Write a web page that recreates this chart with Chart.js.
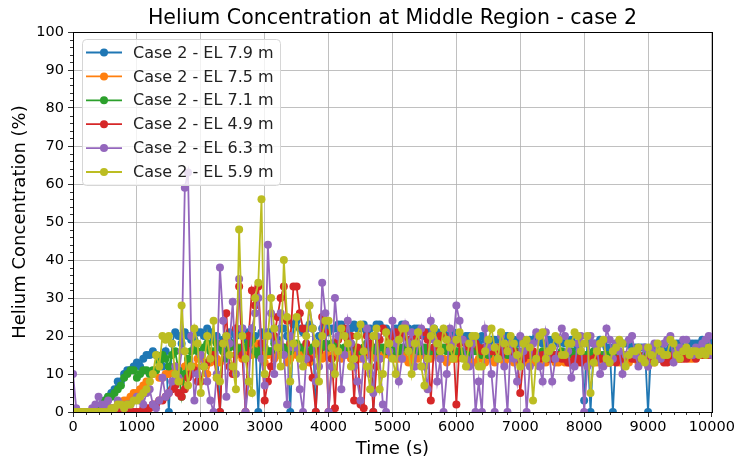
<!DOCTYPE html>
<html>
<head>
<meta charset="utf-8">
<script src="https://cdn.jsdelivr.net/npm/chart.js@4.4.0/dist/chart.umd.min.js"></script>
<style>
  html, body { margin: 0; padding: 0; background: #fff; }
</style>
</head>
<body>
<canvas id="heliumChart" width="737" height="460"></canvas>
<script>
// sample times (s), every 50 s
const times = [
  0, 50, 100, 150, 200, 250, 300, 350, 400, 450,
  500, 550, 600, 650, 700, 750, 800, 850, 900, 950,
  1000, 1050, 1100, 1150, 1200, 1250, 1300, 1350, 1400, 1450,
  1500, 1550, 1600, 1650, 1700, 1750, 1800, 1850, 1900, 1950,
  2000, 2050, 2100, 2150, 2200, 2250, 2300, 2350, 2400, 2450,
  2500, 2550, 2600, 2650, 2700, 2750, 2800, 2850, 2900, 2950,
  3000, 3050, 3100, 3150, 3200, 3250, 3300, 3350, 3400, 3450,
  3500, 3550, 3600, 3650, 3700, 3750, 3800, 3850, 3900, 3950,
  4000, 4050, 4100, 4150, 4200, 4250, 4300, 4350, 4400, 4450,
  4500, 4550, 4600, 4650, 4700, 4750, 4800, 4850, 4900, 4950,
  5000, 5050, 5100, 5150, 5200, 5250, 5300, 5350, 5400, 5450,
  5500, 5550, 5600, 5650, 5700, 5750, 5800, 5850, 5900, 5950,
  6000, 6050, 6100, 6150, 6200, 6250, 6300, 6350, 6400, 6450,
  6500, 6550, 6600, 6650, 6700, 6750, 6800, 6850, 6900, 6950,
  7000, 7050, 7100, 7150, 7200, 7250, 7300, 7350, 7400, 7450,
  7500, 7550, 7600, 7650, 7700, 7750, 7800, 7850, 7900, 7950,
  8000, 8050, 8100, 8150, 8200, 8250, 8300, 8350, 8400, 8450,
  8500, 8550, 8600, 8650, 8700, 8750, 8800, 8850, 8900, 8950,
  9000, 9050, 9100, 9150, 9200, 9250, 9300, 9350, 9400, 9450,
  9500, 9550, 9600, 9650, 9700, 9750, 9800, 9850, 9900, 9950,
  10000
];

// helium concentration (%) per elevation
const el79 = [
  0, 0, 0, 0, 0, 0, 0, 0, 1, 2,
  3, 4, 5, 6, 8, 8, 10, 11, 11, 12,
  13, 12, 14, 15, 15, 16, 15, 14, 12, 16,
  0, 18, 21, 20, 18, 21, 20, 19, 19, 21,
  21, 20, 22, 21, 19, 20, 0, 19, 20, 21,
  18, 20, 21, 22, 19, 21, 22, 20, 0, 21,
  20, 21, 21, 19, 19, 22, 22, 20, 0, 23,
  24, 22, 21, 22, 23, 22, 0, 20, 22, 23,
  21, 22, 22, 23, 23, 21, 20, 22, 23, 22,
  22, 23, 21, 22, 0, 23, 23, 22, 22, 21,
  21, 22, 22, 23, 23, 22, 21, 22, 22, 21,
  20, 21, 21, 22, 21, 20, 21, 20, 20, 21,
  20, 19, 19, 20, 20, 19, 19, 18, 20, 19,
  18, 19, 19, 19, 19, 20, 20, 19, 19, 18,
  19, 19, 18, 19, 19, 20, 19, 18, 18, 19,
  19, 19, 18, 19, 18, 18, 19, 18, 17, 18,
  3, 18, 0, 18, 18, 19, 18, 17, 17, 0,
  18, 18, 18, 18, 18, 17, 17, 17, 17, 17,
  0, 17, 17, 17, 17, 16, 16, 17, 17, 18,
  18, 17, 17, 18, 18, 18, 18, 19, 18, 19,
  18
];
const el75 = [
  0, 0, 0, 0, 0, 0, 0, 0, 0, 0,
  0, 1, 1, 1, 2, 2, 3, 3, 4, 5,
  5, 6, 7, 8, 8, 10, 11, 9, 9, 10,
  10, 11, 12, 10, 8, 12, 13, 11, 12, 14,
  14, 12, 10, 13, 15, 14, 13, 16, 16, 12,
  12, 15, 17, 14, 14, 16, 15, 17, 18, 15,
  13, 15, 16, 14, 15, 17, 17, 13, 14, 16,
  15, 15, 16, 14, 13, 15, 17, 16, 14, 15,
  15, 14, 16, 15, 14, 16, 15, 14, 16, 15,
  14, 15, 15, 16, 15, 14, 14, 15, 16, 15,
  15, 14, 14, 15, 14, 13, 15, 14, 14, 15,
  15, 14, 14, 15, 15, 14, 14, 13, 14, 14,
  14, 15, 15, 14, 14, 13, 13, 14, 14, 13,
  15, 14, 13, 14, 14, 13, 14, 14, 13, 14,
  14, 13, 13, 14, 13, 14, 14, 13, 13, 14,
  14, 13, 13, 14, 13, 13, 14, 13, 13, 14,
  13, 14, 14, 13, 13, 14, 14, 13, 13, 14,
  14, 13, 14, 14, 13, 14, 14, 13, 14, 14,
  14, 13, 13, 14, 14, 14, 14, 15, 15, 14,
  14, 15, 15, 14, 14, 15, 15, 15, 15, 16,
  16
];
const el71 = [
  0, 0, 0, 0, 0, 0, 0, 0, 1, 2,
  3, 4, 4, 5, 6, 7, 9, 10, 11, 11,
  9, 10, 11, 11, 10, 11, 11, 13, 15, 14,
  12, 15, 16, 11, 4, 10, 14, 16, 17, 16,
  15, 17, 18, 16, 16, 18, 17, 16, 14, 17,
  18, 17, 16, 17, 17, 18, 19, 16, 15, 17,
  17, 16, 16, 18, 18, 17, 17, 16, 16, 17,
  18, 17, 17, 16, 16, 17, 18, 17, 17, 18,
  17, 18, 18, 17, 16, 17, 17, 18, 17, 16,
  16, 17, 18, 17, 17, 16, 17, 17, 16, 16,
  17, 16, 16, 17, 17, 16, 17, 17, 16, 16,
  17, 16, 16, 17, 16, 16, 17, 16, 16, 16,
  16, 16, 16, 15, 15, 16, 16, 16, 15, 16,
  15, 16, 16, 15, 16, 16, 15, 15, 16, 16,
  15, 16, 16, 15, 15, 15, 15, 16, 16, 15,
  15, 15, 15, 16, 15, 15, 16, 15, 15, 15,
  15, 15, 15, 16, 16, 15, 15, 15, 15, 14,
  14, 15, 15, 15, 15, 15, 15, 14, 14, 15,
  15, 15, 15, 14, 14, 15, 15, 15, 15, 16,
  16, 15, 15, 15, 15, 16, 16, 16, 16, 16,
  16
];
const el49 = [
  0, 0, 0, 0, 0, 0, 0, 0, 0, 0,
  0, 0, 0, 0, 0, 0, 0, 0, 0, 0,
  0, 0, 1, 1, 1, 2, 2, 3, 3, 4,
  5, 6, 7, 5, 4, 6, 9, 10, 11, 8,
  8, 12, 13, 14, 15, 9, 0, 18, 26, 12,
  10, 22, 33, 15, 0, 20, 32, 28, 33, 18,
  3, 8, 12, 20, 25, 30, 33, 24, 18, 33,
  33, 26, 22, 18, 14, 9, 0, 16, 25, 21,
  0, 14, 1, 19, 21, 22, 19, 20, 3, 17,
  2, 1, 20, 18, 0, 12, 19, 22, 21, 19,
  20, 21, 19, 20, 21, 19, 18, 20, 20, 21,
  21, 19, 3, 17, 19, 20, 20, 19, 18, 19,
  2, 18, 19, 18, 17, 18, 18, 17, 16, 17,
  17, 16, 16, 17, 15, 16, 17, 16, 16, 15,
  5, 14, 15, 16, 16, 15, 14, 15, 15, 14,
  14, 15, 15, 14, 14, 13, 13, 14, 14, 13,
  14, 14, 13, 14, 15, 14, 14, 13, 13, 14,
  13, 14, 14, 15, 15, 14, 14, 15, 14, 14,
  13, 14, 14, 14, 14, 13, 13, 14, 15, 15,
  14, 14, 14, 15, 15, 14, 15, 15, 15, 15,
  15
];
const el63 = [
  10, 1, 0, 0, 0, 0, 1, 2, 4, 2,
  2, 3, 1, 1, 3, 2, 1, 2, 2, 3,
  4, 3, 2, 5, 6, 2, 1, 3, 9, 4,
  5, 8, 12, 9, 16, 59, 63, 20, 3, 10,
  15, 12, 8, 3, 0, 10, 38, 24, 4, 18,
  29, 10, 35, 22, 0, 8, 22, 26, 30, 14,
  7, 44, 26, 10, 18, 26, 15, 2, 20, 17,
  17, 6, 0, 14, 28, 22, 8, 12, 34, 26,
  0, 12, 30, 20, 6, 15, 24, 18, 12, 8,
  3, 14, 22, 10, 5, 20, 14, 2, 0, 16,
  24, 18, 8, 14, 23, 18, 21, 12, 18, 22,
  12, 6, 24, 19, 8, 14, 0, 10, 22, 18,
  28, 24, 19, 14, 12, 18, 0, 8, 0, 22,
  17, 10, 0, 14, 20, 12, 0, 18, 14, 8,
  20, 16, 0, 12, 18, 21, 12, 8, 21, 16,
  8, 14, 19, 22, 20, 16, 9, 12, 18, 20,
  0, 12, 20, 18, 17, 10, 12, 22, 19, 14,
  18, 16, 10, 15, 19, 20, 15, 12, 14, 17,
  12, 16, 18, 14, 14, 18, 19, 20, 13, 16,
  17, 19, 19, 16, 15, 17, 16, 18, 19, 20,
  15
];
const el59 = [
  0, 0, 0, 0, 0, 0, 0, 0, 0, 0,
  0, 0, 1, 1, 2, 2, 1, 2, 2, 3,
  3, 4, 5, 6, 8, 10, 15, 12, 20, 19,
  20, 18, 10, 8, 28, 16, 7, 12, 22, 18,
  5, 12, 20, 14, 24, 9, 8, 18, 20, 15,
  12, 6, 48, 20, 14, 8, 5, 30, 34, 56,
  10, 20, 30, 22, 17, 12, 40, 25, 8, 18,
  25, 14, 12, 20, 28, 22, 18, 8, 20, 24,
  24, 17, 10, 16, 22, 20, 18, 12, 14, 20,
  23, 16, 12, 6, 20, 22, 6, 10, 21, 18,
  14, 10, 19, 22, 22, 16, 10, 18, 21, 12,
  7, 14, 20, 22, 18, 16, 22, 19, 17, 14,
  19, 21, 14, 12, 18, 20, 20, 12, 12, 16,
  19, 22, 17, 14, 21, 18, 16, 20, 18, 15,
  12, 18, 19, 17, 3, 14, 20, 21, 14, 16,
  17, 20, 19, 15, 15, 18, 18, 21, 20, 16,
  18, 20, 5, 13, 16, 18, 19, 14, 13, 16,
  17, 19, 18, 12, 15, 16, 16, 17, 14, 13,
  17, 15, 13, 18, 16, 15, 15, 19, 18, 15,
  14, 16, 17, 15, 16, 16, 15, 16, 15, 17,
  16
];

const seriesLabels = [
  'Case 2 - EL 7.9 m', 'Case 2 - EL 7.5 m', 'Case 2 - EL 7.1 m',
  'Case 2 - EL 4.9 m', 'Case 2 - EL 6.3 m', 'Case 2 - EL 5.9 m'
];
const seriesValues = [el79, el75, el71, el49, el63, el59];
const seriesColors = ['#1f77b4', '#ff7f0e', '#2ca02c', '#d62728', '#9467bd', '#bcbd22'];

const FONT = "'DejaVu Sans', sans-serif";
const TITLE = 'Helium Concentration at Middle Region - case 2';

const datasets = seriesValues.map((vals, i) => ({
  label: seriesLabels[i],
  data: vals.map((v, j) => ({ x: times[j], y: v })),
  borderColor: seriesColors[i],
  backgroundColor: seriesColors[i],
  borderWidth: 1.8,
  pointRadius: 4,
  pointBorderWidth: 0,
  pointHoverRadius: 4,
  tension: 0,
  // later series sit on top
  order: seriesValues.length - i
}));

// title over the plot, minor ticks and the four-sided frame
const framePlugin = {
  id: 'frame',
  afterDraw(chart) {
    const { ctx, chartArea: a, scales } = chart;
    ctx.save();
    ctx.fillStyle = '#000';
    ctx.font = '20.5px ' + FONT;
    ctx.textAlign = 'center';
    ctx.textBaseline = 'middle';
    ctx.fillText(TITLE, (a.left + a.right) / 2, 18.5);

    ctx.strokeStyle = '#000';
    ctx.lineWidth = 0.8;
    ctx.beginPath();
    for (let v = 0; v <= 100; v += 2) {
      if (v % 10 === 0) continue;
      const y = Math.round(scales.y.getPixelForValue(v)) + 0.5;
      ctx.moveTo(a.left - 3, y);
      ctx.lineTo(a.left, y);
    }
    for (let t = 0; t <= 10000; t += 200) {
      if (t % 1000 === 0) continue;
      const x = Math.round(scales.x.getPixelForValue(t)) + 0.5;
      ctx.moveTo(x, a.bottom);
      ctx.lineTo(x, a.bottom + 3);
    }
    ctx.stroke();
    ctx.lineWidth = 1;
    ctx.strokeRect(Math.round(a.left) + 0.5, Math.round(a.top) + 0.5,
      Math.round(a.right - a.left), Math.round(a.bottom - a.top));
    ctx.restore();
  }
};

// legend box inside the upper-left corner of the plot
const boxLegend = {
  id: 'boxLegend',
  afterDraw(chart) {
    const { ctx } = chart;
    const bx = 82, by = 39, bw = 198, bh = 146, r = 4;
    ctx.save();
    ctx.beginPath();
    ctx.roundRect(bx + 0.5, by + 0.5, bw, bh, r);
    ctx.fillStyle = 'rgba(255,255,255,0.8)';
    ctx.fill();
    ctx.strokeStyle = '#d6d6d6';
    ctx.lineWidth = 1;
    ctx.stroke();
    ctx.font = '16px ' + FONT;
    ctx.textBaseline = 'middle';
    seriesLabels.forEach((label, i) => {
      const y = 52.5 + i * 23.9;
      ctx.strokeStyle = seriesColors[i];
      ctx.lineWidth = 1.8;
      ctx.beginPath();
      ctx.moveTo(86, y);
      ctx.lineTo(122, y);
      ctx.stroke();
      ctx.fillStyle = seriesColors[i];
      ctx.beginPath();
      ctx.arc(104, y, 4, 0, Math.PI * 2);
      ctx.fill();
      ctx.fillStyle = '#222';
      ctx.fillText(label, 133, y + 1);
    });
    ctx.restore();
  }
};

new Chart(document.getElementById('heliumChart'), {
  type: 'line',
  data: { datasets },
  plugins: [framePlugin, boxLegend],
  options: {
    responsive: false,
    animation: false,
    devicePixelRatio: 1,
    layout: { padding: { left: 0, right: 25, top: 32, bottom: 0 } },
    plugins: {
      legend: { display: false },
      tooltip: { enabled: false },
      title: { display: false }
    },
    scales: {
      x: {
        type: 'linear',
        min: 0,
        max: 10000,
        afterFit(scale) { scale.height = 48; },
        ticks: {
          stepSize: 1000,
          color: '#000',
          padding: 2,
          maxRotation: 0,
          font: { family: FONT, size: 14.5 },
          callback: v => String(v)
        },
        grid: { color: '#b0b0b0', lineWidth: 0.8, tickColor: '#000', tickLength: 5 },
        border: { display: false },
        title: {
          display: true,
          text: 'Time (s)',
          color: '#000',
          font: { family: FONT, size: 18 },
          padding: { top: 0, bottom: 0 }
        }
      },
      y: {
        min: 0,
        max: 100,
        afterFit(scale) { scale.width = 73; },
        ticks: {
          stepSize: 10,
          color: '#000',
          padding: 4,
          font: { family: FONT, size: 14.5 }
        },
        grid: { color: '#b0b0b0', lineWidth: 0.8, tickColor: '#000', tickLength: 5 },
        border: { display: false },
        title: {
          display: true,
          text: 'Helium Concentration (%)',
          color: '#000',
          font: { family: FONT, size: 18 },
          padding: { top: 10, bottom: 0 }
        }
      }
    }
  }
});
</script>
</body>
</html>
